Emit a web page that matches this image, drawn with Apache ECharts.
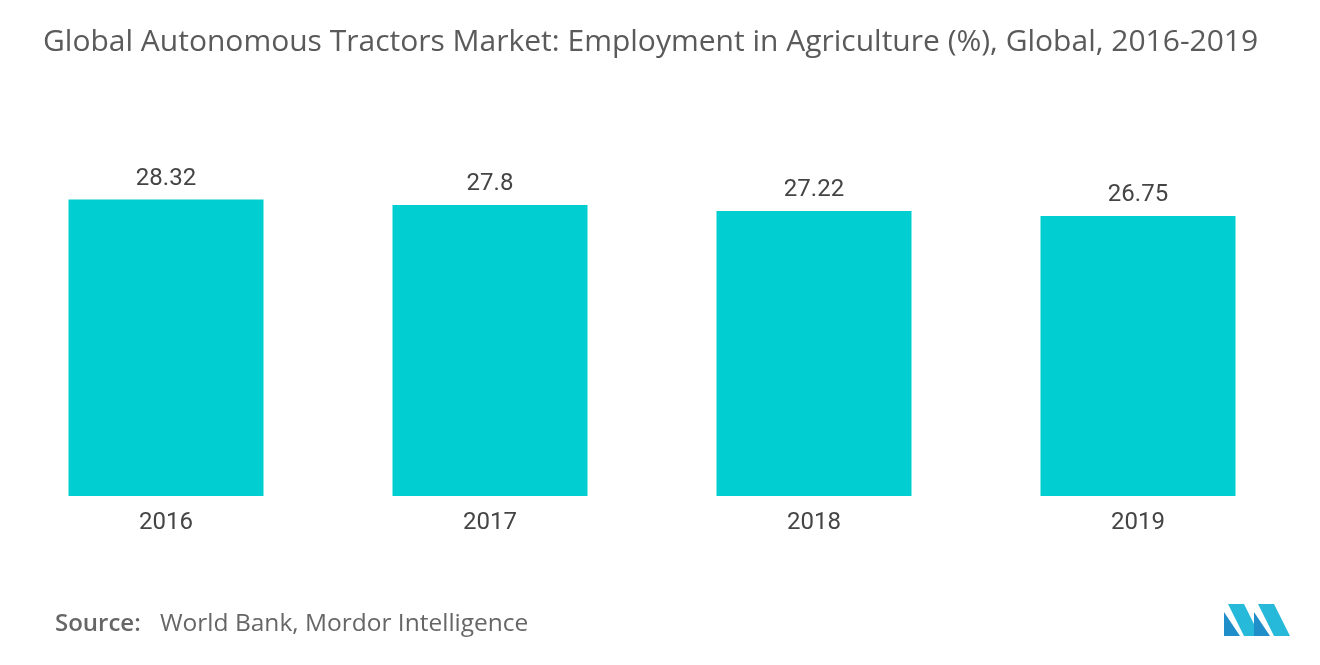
<!DOCTYPE html>
<html>
<head>
<meta charset="utf-8">
<script src="https://cdn.jsdelivr.net/npm/echarts@6/dist/echarts.min.js"></script>
<style>
  html, body { margin: 0; padding: 0; background: #fff; }
  #main { width: 1320px; height: 665px; }
</style>
</head>
<body>
<div id="main"></div>
<script>
const years = ["2016", "2017", "2018", "2019"];
const employment = [28.32, 27.8, 27.22, 26.75];

const chart = echarts.init(document.getElementById("main"));
chart.setOption({
  animation: false,
  title: {
    text: "Global Autonomous Tractors Market: Employment in Agriculture (%), Global, 2016-2019",
    left: 38,
    top: 22,
    textStyle: { fontFamily: "Open Sans", fontSize: 30, fontWeight: "normal", color: "#5a5a5a" }
  },
  grid: { left: 4, right: 20, top: 182, bottom: 169 },
  xAxis: {
    type: "category",
    data: years,
    axisLine: { show: false },
    axisTick: { show: false },
    axisLabel: { fontFamily: "Roboto", fontSize: 24, color: "#444", margin: 15 }
  },
  yAxis: { type: "value", min: 0, max: 30, show: false, splitLine: { show: false } },
  series: [{
    type: "bar",
    data: employment,
    barWidth: 195,
    itemStyle: { color: "#00ced1" },
    label: { show: true, position: "top", distance: 9, fontFamily: "Roboto", fontSize: 24, color: "#444" }
  }],
  graphic: [
    {
      type: "text", left: 55, top: 612,
      style: { text: "Source:", font: "600 24px 'Open Sans'", fill: "#666" }
    },
    {
      type: "text", left: 160, top: 612,
      style: { text: "World Bank, Mordor Intelligence", font: "24.5px 'Open Sans'", fill: "#666" }
    },
    {
      type: "group", left: 1224, top: 604,
      children: [
        { type: "polygon", shape: { points: [[0, 32], [0, 8], [16, 32]] }, style: { fill: "#1f8ec9" } },
        { type: "polygon", shape: { points: [[4, 0], [20, 0], [36, 32], [20, 32]] }, style: { fill: "#27b9d9" } },
        { type: "polygon", shape: { points: [[30, 32], [30, 8], [46, 32]] }, style: { fill: "#1f8ec9" } },
        { type: "polygon", shape: { points: [[34, 0], [50, 0], [66, 32], [50, 32]] }, style: { fill: "#27b9d9" } }
      ]
    }
  ]
});
</script>
</body>
</html>
